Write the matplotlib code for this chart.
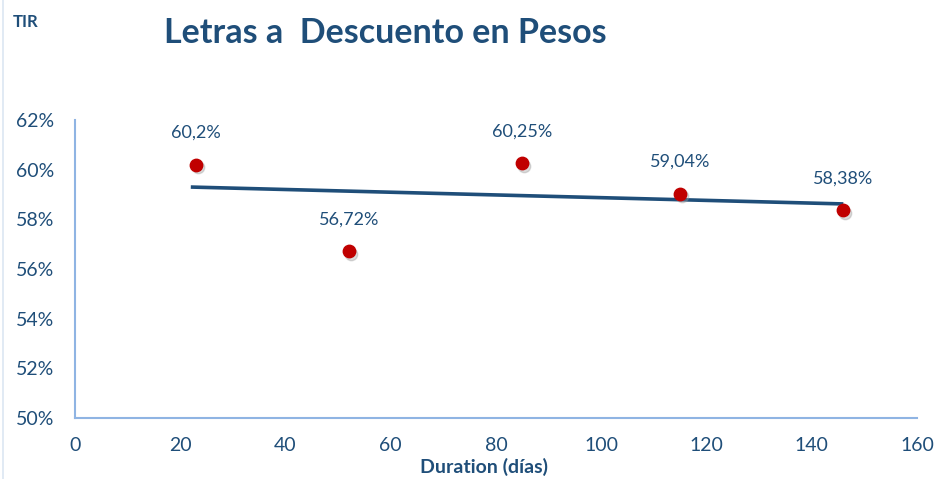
import matplotlib
matplotlib.use("Agg")
import matplotlib.pyplot as plt
from matplotlib.lines import Line2D
from matplotlib.ticker import FuncFormatter
from matplotlib.transforms import ScaledTranslation

# datos
duration = [23, 52, 85, 115, 146]
tir = [60.2, 56.72, 60.25, 59.04, 58.38]
labels = ["60,2%", "56,72%", "60,25%", "59,04%", "58,38%"]
trend_x = [22, 146]
trend_y = [59.3, 58.62]

azul = "#1f4e79"
azul_claro = "#8fb4e3"
rojo = "#c00000"

plt.rcParams["font.family"] = ["Lato", "DejaVu Sans"]

fig = plt.figure(figsize=(9.39, 4.79), dpi=100)
ax = fig.add_axes([0.0799, 0.1273, 0.8967, 0.6222])

ax.plot(trend_x, trend_y, color=azul, lw=2.6, solid_capstyle="butt", zorder=2)
# sombra de los puntos
sombra = ax.transData + ScaledTranslation(1.5/72, -2/72, fig.dpi_scale_trans)
ax.scatter(duration, tir, s=80, color="#999999", alpha=0.35, zorder=2, transform=sombra)
ax.scatter(duration, tir, s=80, color=rojo, zorder=3)

for x, y, t in zip(duration, tir, labels):
    ax.annotate(t, (x, y), xytext=(0, 17), textcoords="offset points",
                ha="center", va="bottom", fontsize=13, color=azul)

ax.set_xlim(0, 160)
ax.set_ylim(50, 62)
ax.set_xticks(range(0, 161, 20))
ax.set_yticks(range(50, 63, 2))
ax.yaxis.set_major_formatter(FuncFormatter(lambda v, p: f"{v:.0f}%"))
ax.tick_params(length=0, labelsize=14, labelcolor=azul)
ax.tick_params(axis="y", pad=15)
ax.tick_params(axis="x", pad=14)

for s in ["top", "right"]:
    ax.spines[s].set_visible(False)
for s in ["left", "bottom"]:
    ax.spines[s].set_color(azul_claro)
    ax.spines[s].set_linewidth(1.5)

ax.set_xlabel("Duration (días)", fontsize=14, fontweight="bold", color=azul)
ax.xaxis.set_label_coords(0.486, -0.135)

fig.text(0.014, 0.955, "TIR", fontsize=12, fontweight="bold", color=azul, va="center")
fig.text(0.41, 0.932, "Letras a  Descuento en Pesos", fontsize=24.5, fontweight="bold",
         color=azul, ha="center", va="center")
fig.add_artist(Line2D([0.003, 0.003], [0, 1], color="#dce6f2", lw=1.2))

plt.savefig("out.png", dpi=100)
